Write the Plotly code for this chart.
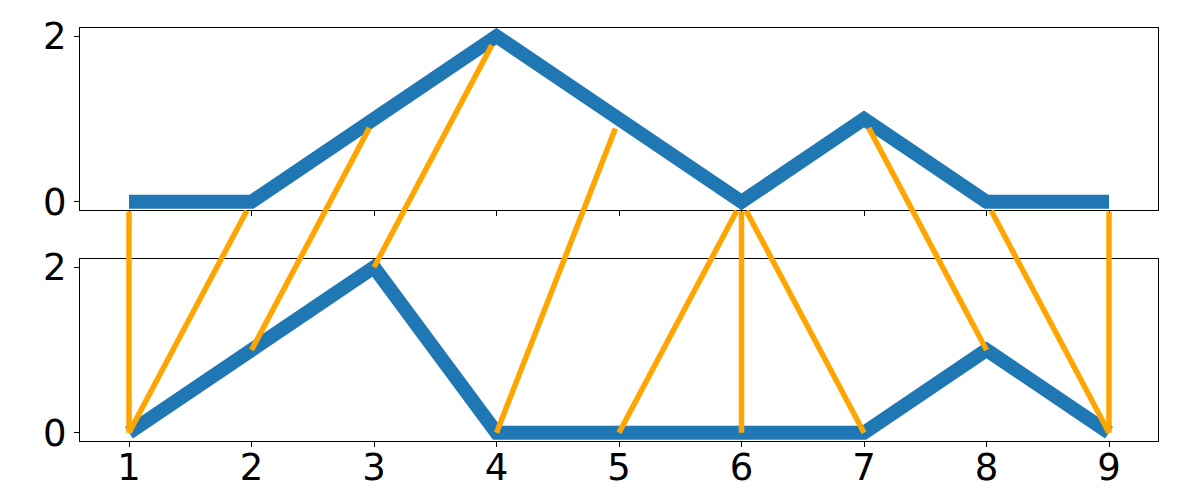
import numpy as np
import plotly.graph_objects as go
from plotly.subplots import make_subplots

# two series compared with dynamic time warping
x = [1, 2, 3, 4, 5, 6, 7, 8, 9]
top_series = [0, 0, 1, 2, 1, 0, 1, 0, 0]
bottom_series = [0, 1, 2, 0, 0, 0, 0, 1, 0]
# warping path: (index in top, index in bottom), 0-based
path = [(0, 0), (1, 0), (2, 1), (3, 2), (4, 3), (5, 4),
        (5, 5), (5, 6), (6, 7), (7, 8), (8, 8)]

W, H = 1200, 500
# page body adds an 8px offset, so margins are trimmed by that much
margin = dict(l=72, r=50, t=20, b=67)
top_dom = [0.559, 1.0]
bot_dom = [0.0, 0.4407]
xr = [0.6, 9.4]
yr = [-0.1, 2.1]

fig = make_subplots(rows=2, cols=1, shared_xaxes=False, vertical_spacing=0.1)

blue = "#1f77b4"
fig.add_trace(go.Scatter(x=x, y=top_series, mode="lines",
                         line=dict(color=blue, width=14)), row=1, col=1)
fig.add_trace(go.Scatter(x=x, y=bottom_series, mode="lines",
                         line=dict(color=blue, width=14)), row=2, col=1)

# data -> pixel helpers so the connectors can cross both panels
pw = W - margin["l"] - margin["r"]
ph = H - margin["t"] - margin["b"]


def px_x(v):
    return margin["l"] + (v - xr[0]) / (xr[1] - xr[0]) * pw


def px_y(v, dom):
    frac = dom[0] + (v - yr[0]) / (yr[1] - yr[0]) * (dom[1] - dom[0])
    return margin["b"] + frac * ph  # measured from bottom


def to_paper(px, py):
    return (px - margin["l"]) / pw, (py - margin["b"]) / ph


shrink = 10
for i, j in path:
    x0, y0 = px_x(x[i]), px_y(top_series[i], top_dom)
    x1, y1 = px_x(x[j]), px_y(bottom_series[j], bot_dom)
    d = np.hypot(x1 - x0, y1 - y0)
    x0s = x0 + (x1 - x0) / d * shrink
    y0s = y0 + (y1 - y0) / d * shrink
    a0 = to_paper(x0s, y0s)
    a1 = to_paper(x1, y1)
    fig.add_shape(type="line", xref="paper", yref="paper",
                  x0=a0[0], y0=a0[1], x1=a1[0], y1=a1[1],
                  line=dict(color="orange", width=5.5), layer="above")

axis_style = dict(showgrid=False, zeroline=False, showline=True, mirror=True,
                  linecolor="black", linewidth=1, ticks="outside", ticklen=5,
                  tickwidth=1, tickcolor="black", automargin=False,
                  tickfont=dict(family="DejaVu Sans", size=37, color="black"))

fig.update_xaxes(range=xr, tickvals=x, **axis_style)
fig.update_yaxes(range=yr, tickvals=[0, 2], **axis_style)
fig.update_xaxes(showticklabels=False, row=1, col=1)
fig.update_xaxes(ticklabelstandoff=-11, row=2, col=1)
fig.update_layout(
    width=W, height=H, margin=margin, showlegend=False,
    plot_bgcolor="white", paper_bgcolor="white",
    xaxis=dict(domain=[0, 1]), yaxis=dict(domain=top_dom),
    xaxis2=dict(domain=[0, 1]), yaxis2=dict(domain=bot_dom),
)

fig.write_html("out.html")
